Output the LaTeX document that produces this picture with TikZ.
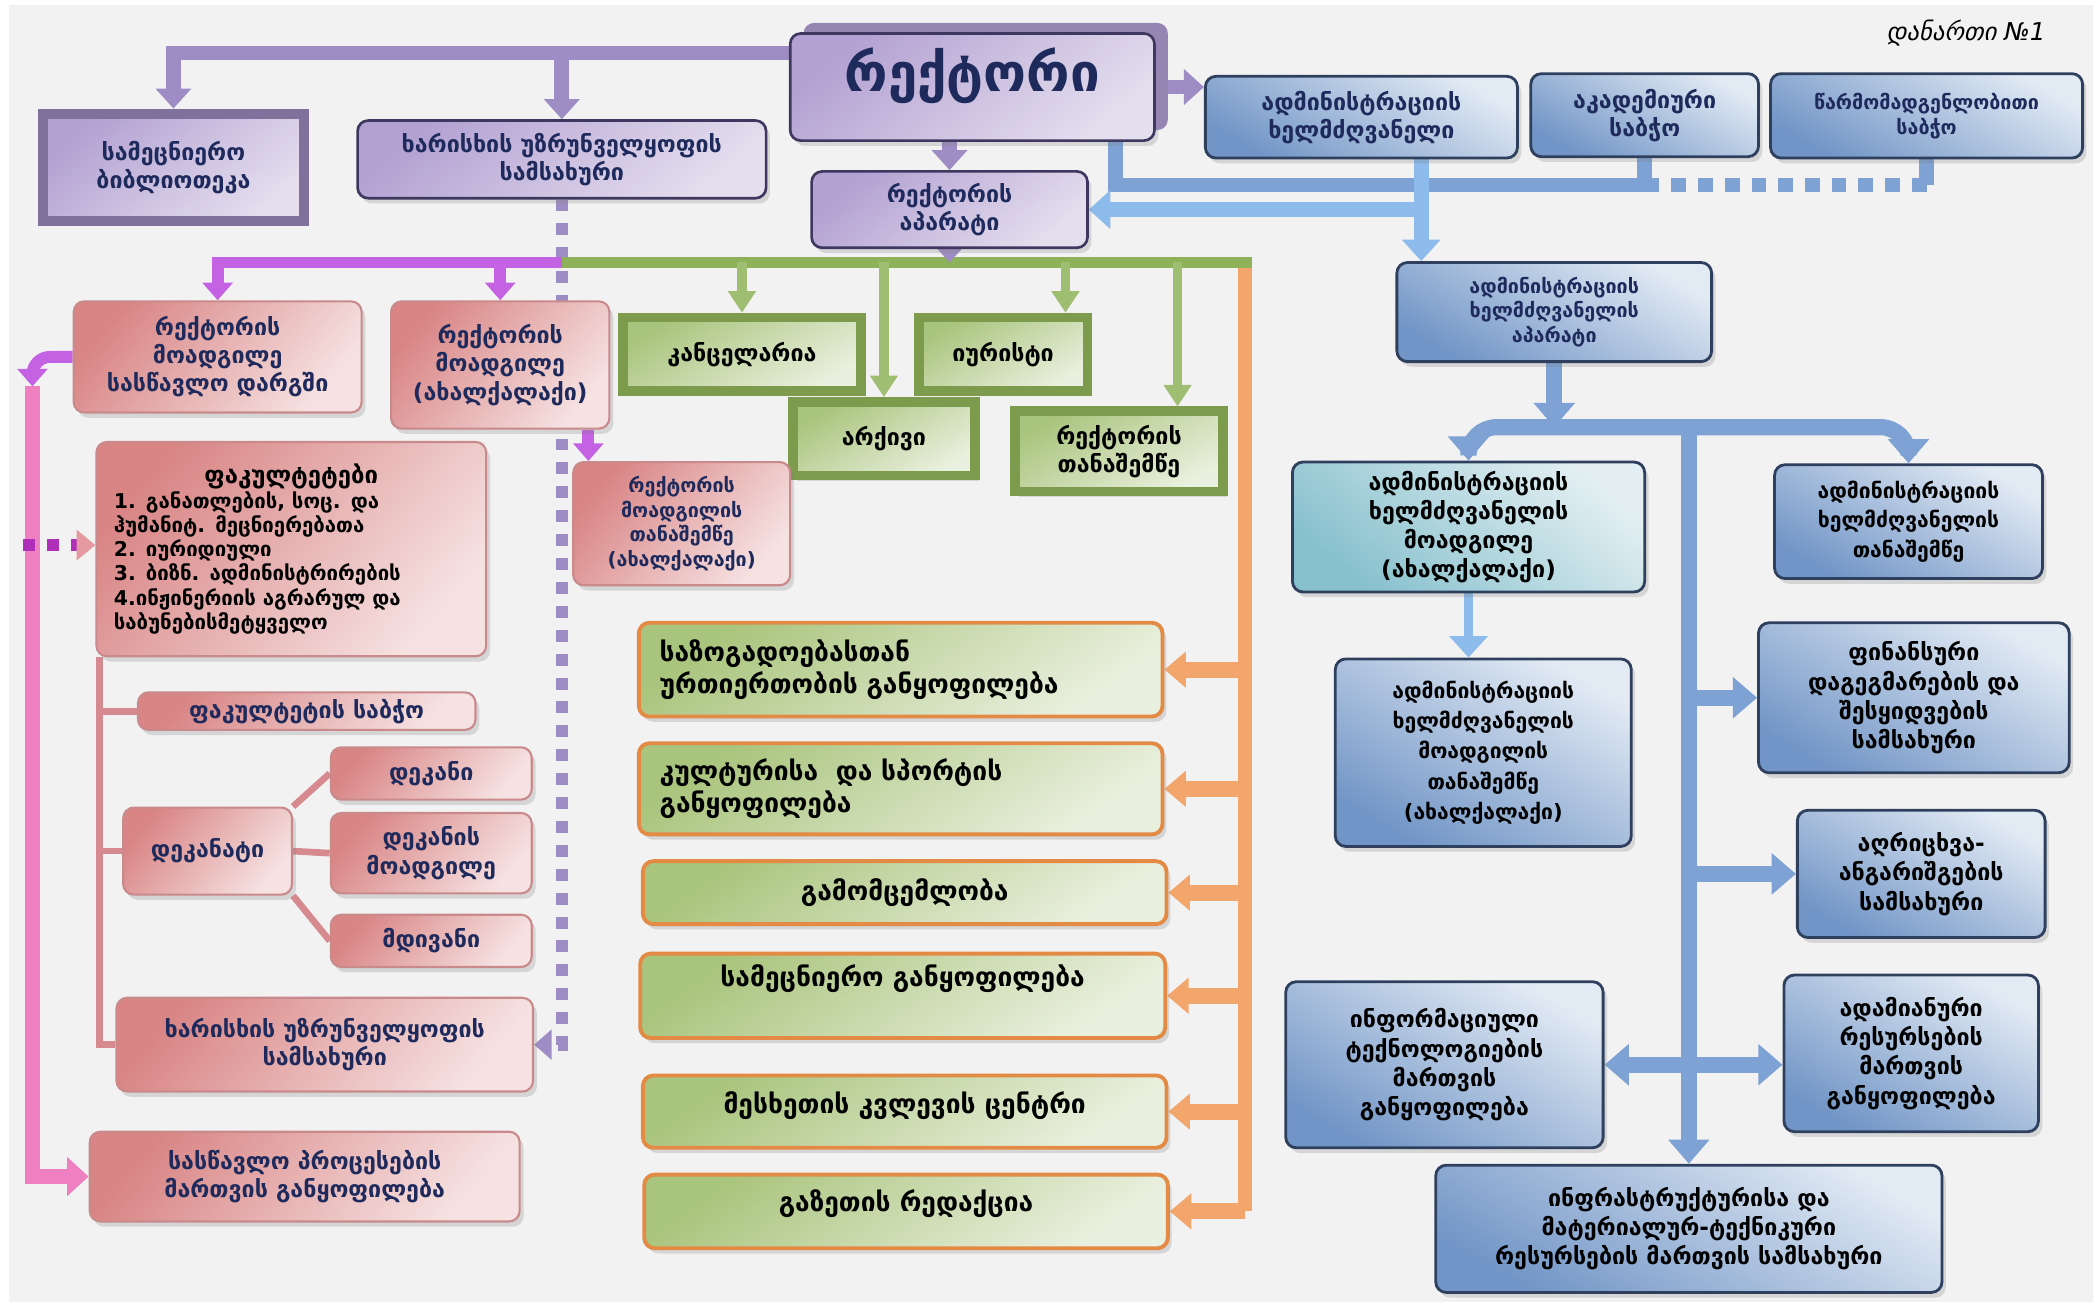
\documentclass[tikz,border=0pt]{standalone}
\usepackage{fontspec}
\setmainfont{DejaVu Sans}
\usetikzlibrary{arrows.meta, positioning, calc, shadows, backgrounds}

\newlength\dpx
\setlength\dpx{0.13393mm}

\newcommand\boxfont{\fontsize{6.6}{8}\selectfont\bfseries}
\newcommand\smallboxfont{\fontsize{5.6}{7}\selectfont\bfseries}
\newcommand\textboxfont{\fontsize{7.5}{9}\selectfont\bfseries}
\newcommand\bluefont{\fontsize{6.6}{8.3}\selectfont\bfseries}
\newcommand\listfont{\fontsize{5.8}{6.9}\selectfont\bfseries}

\definecolor{navy}{HTML}{1F2A5C}
\definecolor{bgpanel}{HTML}{F2F2F2}
\definecolor{lavline}{HTML}{9E8DC4}
\definecolor{lavtop}{HTML}{B3A1D2}
\definecolor{lavlight}{HTML}{E4DEEE}
\definecolor{lavedge}{HTML}{3E3760}
\definecolor{lavbevel}{HTML}{7F709C}
\definecolor{lavshadow}{HTML}{9485B2}
\definecolor{magline}{HTML}{C462E4}
\definecolor{magdot}{HTML}{B02FB8}
\definecolor{pinkline}{HTML}{EE80C2}
\definecolor{pinkarrow}{HTML}{E59AA2}
\definecolor{pinkdark}{HTML}{D98585}
\definecolor{pinklight}{HTML}{F6E2E2}
\definecolor{pinkedge}{HTML}{C98A8C}
\definecolor{treeline}{HTML}{D68A90}
\definecolor{grnline}{HTML}{8EB259}
\definecolor{grndark}{HTML}{A9C47C}
\definecolor{grnlight}{HTML}{EAF0DF}
\definecolor{grnbevel}{HTML}{7D9B4C}
\definecolor{orgline}{HTML}{F2A66C}
\definecolor{orgedge}{HTML}{E38A45}
\definecolor{bluline}{HTML}{7EA2D3}
\definecolor{bluarrow}{HTML}{8CBBEC}
\definecolor{bludark}{HTML}{7195C6}
\definecolor{blulight}{HTML}{E2EAF4}
\definecolor{bluedge}{HTML}{2F405F}
\definecolor{tealdark}{HTML}{86C0CD}
\definecolor{teallight}{HTML}{E3EFF2}

\tikzset{%
    wh/.style 2 args={
        minimum width=#1\dpx,
        minimum height=#2\dpx,
    },
    boxsty/.style={
        rounded corners=3pt,
        align=center,
        inner sep=1pt,
        line width=0.75pt,
        font=\boxfont,
        drop shadow={shadow xshift=1.1pt, shadow yshift=-1.5pt, opacity=.25},
    },
    lavsty/.style={
        boxsty,
        draw=lavedge,
        top color=lavtop,
        bottom color=lavlight,
        shading angle=40,
        text=navy,
    },
    bevlav/.style={
        lavsty,
        sharp corners,
        draw=lavbevel,
        line width=3pt,
    },
    pinksty/.style={
        boxsty,
        draw=pinkedge,
        line width=0.6pt,
        top color=pinkdark,
        bottom color=pinklight,
        shading angle=50,
        text=navy,
    },
    grnsty/.style={
        boxsty,
        sharp corners,
        draw=grnbevel,
        line width=2.7pt,
        top color=grndark,
        bottom color=grnlight,
        shading angle=30,
        text=black,
    },
    orgsty/.style={
        boxsty,
        draw=orgedge,
        line width=1.1pt,
        top color=grndark,
        bottom color=grnlight,
        shading angle=35,
        text=black,
        font=\textboxfont,
    },
    blusty/.style={
        boxsty,
        draw=bluedge,
        line width=0.8pt,
        top color=blulight,
        bottom color=bludark,
        shading angle=-30,
        text=navy,
    },
    blktxt/.style={
        text=black,
        font=\bluefont,
    },
    pline/.style={draw=lavline, line width=4.2pt},
    parrow/.style={pline, -{Triangle[length=5.7pt, width=9.9pt]}},
    pdot/.style={draw=lavline, line width=3.4pt, dash pattern=on 3.4pt off 3.4pt,
        -{Triangle[length=5pt, width=8.4pt]}},
    marrow/.style={draw=magline, line width=3.4pt, -{Triangle[length=5pt, width=8.4pt]}},
    mline/.style={draw=magline, line width=3.4pt},
    mdotarrow/.style={draw=magdot, line width=3.4pt, dash pattern=on 3.4pt off 3.4pt,
        -{Triangle[length=5.3pt, width=8.4pt, fill=pinkarrow, color=pinkarrow]}},
    pkarrow/.style={draw=pinkline, line width=4.2pt, -{Triangle[length=6.1pt, width=10.7pt]}},
    tline/.style={draw=treeline, line width=1.9pt},
    gline/.style={draw=grnline, line width=3.4pt},
    garrow/.style={draw=grnline!85, line width=2.7pt, -{Triangle[length=6.1pt, width=7.6pt]}},
    oline/.style={draw=orgline, line width=3.8pt},
    oarrow/.style={draw=orgline, line width=4.6pt, -{Triangle[length=6.1pt, width=9.9pt]}},
    bline/.style={draw=bluline, line width=4.2pt},
    bdot/.style={draw=bluline, line width=4.2pt, dash pattern=on 4.2pt off 3.4pt},
    barrow/.style={draw=bluline, line width=4.6pt, -{Triangle[length=6.9pt, width=11.4pt]}},
    bdouble/.style={draw=bluline, line width=4.6pt,
        {Triangle[length=6.9pt, width=11.4pt]}-{Triangle[length=6.9pt, width=11.4pt]}},
    lbarrow/.style={draw=bluarrow, line width=4.2pt, -{Triangle[length=6.1pt, width=10.7pt]}},
}

\begin{document}
\begin{tikzpicture}[x=\dpx, y=-\dpx]

\useasboundingbox (0,0) rectangle (1568,974.4);
\begin{scope}[on background layer]
\fill[white] (0,0) rectangle (1568,974.4);
\fill[bgpanel] (7,4) rectangle (1563,972);
\end{scope}

% rector and top row
\node (rector) [lavsty,wh={272}{80},text depth=26\dpx,font=\fontsize{15}{18}\selectfont\bfseries,
    drop shadow={shadow xshift=3.8pt, shadow yshift=3pt, fill=lavshadow, opacity=1}] at (726,65) {რექტორი};
\node (lib) [bevlav,wh={195}{80}] at (129.5,125) {სამეცნიერო\\ბიბლიოთეკა};
\node (xar) [lavsty,wh={305}{58}] at (419.5,119) {ხარისხის უზრუნველყოფის\\სამსახური};
\node (rap) [lavsty,wh={206}{57}] at (709,156.5) {რექტორის\\აპარატი};
\node (admin) [blusty,wh={233}{61}] at (1016.5,87.5) {ადმინისტრაციის\\ხელმძღვანელი};
\node (akad) [blusty,wh={170}{62}] at (1228,86) {აკადემიური\\საბჭო};
\node (carm) [blusty,wh={233}{63},font=\smallboxfont] at (1438.5,86.5) {წარმომადგენლობითი\\საბჭო};
\node (annex) [font=\fontsize{7}{8}\selectfont\itshape] at (1468,25) {დანართი №1};

% administration side
\node (adap) [blusty,wh={235}{74},font=\smallboxfont] at (1160.5,233) {ადმინისტრაციის\\ხელმძღვანელის\\აპარატი};
\node (dep) [blusty,blktxt,wh={263}{97},top color=teallight,bottom color=tealdark,shading angle=-40] at (1096.5,393.5)
    {ადმინისტრაციის\\ხელმძღვანელის\\მოადგილე\\(ახალქალაქი)};
\node (dept) [blusty,blktxt,wh={221}{140},font=\fontsize{6}{8.6}\selectfont\bfseries] at (1107.5,562)
    {ადმინისტრაციის\\ხელმძღვანელის\\მოადგილის\\თანაშემწე\\(ახალქალაქი)};
\node (atan) [blusty,blktxt,wh={200}{85},font=\fontsize{6}{8.3}\selectfont\bfseries] at (1425,389.5)
    {ადმინისტრაციის\\ხელმძღვანელის\\თანაშემწე};
\node (fin) [blusty,blktxt,wh={232}{112}] at (1429,521) {ფინანსური\\დაგეგმარების და\\შესყიდვების\\სამსახური};
\node (agr) [blusty,blktxt,wh={185}{95}] at (1434.5,652.5) {აღრიცხვა-\\ანგარიშგების\\სამსახური};
\node (it) [blusty,blktxt,wh={237}{124}] at (1078.5,795) {ინფორმაციული\\ტექნოლოგიების\\მართვის\\განყოფილება};
\node (adam) [blusty,blktxt,wh={190}{117}] at (1427,786.5) {ადამიანური\\რესურსების\\მართვის\\განყოფილება};
\node (infra) [blusty,blktxt,wh={378}{95}] at (1261,917.5)
    {ინფრასტრუქტურისა და\\მატერიალურ-ტექნიკური\\რესურსების მართვის სამსახური};

% rector apparatus units
\node (kanc) [grnsty,wh={178}{55}] at (554,264.5) {კანცელარია};
\node (iur) [grnsty,wh={126}{55}] at (749,264.5) {იურისტი};
\node (ark) [grnsty,wh={136}{55}] at (660,327.5) {არქივი};
\node (rt) [grnsty,wh={155}{60}] at (835.5,337) {რექტორის\\თანაშემწე};

\node (szo) [orgsty,wh={391}{70},text width=360\dpx,align=left] at (672.5,500) {საზოგადოებასთან\\ურთიერთობის განყოფილება};
\node (kul) [orgsty,wh={391}{68},text width=360\dpx,align=left] at (672.5,589) {კულტურისა\ \ და სპორტის\\განყოფილება};
\node (gam) [orgsty,wh={391}{47}] at (675.5,666.5) {გამომცემლობა};
\node (sam) [orgsty,wh={392}{63},text depth=30\dpx] at (674,743.5) {სამეცნიერო განყოფილება};
\node (mes) [orgsty,wh={391}{54},text depth=14\dpx] at (675.5,830) {მესხეთის კვლევის ცენტრი};
\node (gaz) [orgsty,wh={391}{55},text depth=16\dpx] at (676.5,904.5) {გაზეთის რედაქცია};

% teaching side
\node (vds) [pinksty,wh={215}{83}] at (162.5,266.5) {რექტორის\\მოადგილე\\სასწავლო დარგში};
\node (vah) [pinksty,wh={163}{95}] at (373.5,272.5) {რექტორის\\მოადგილე\\(ახალქალაქი)};
\node (vaht) [pinksty,wh={162}{92},font=\smallboxfont] at (509,391) {რექტორის\\მოადგილის\\თანაშემწე\\(ახალქალაქი)};
\node (fac) [pinksty,wh={291}{160},text width=265\dpx,align=left,text=black,font=\listfont] at (217.5,410)
    {\centerline{\fontsize{6.8}{8}\selectfont ფაკულტეტები}
     1. განათლების, სოც. და\\ჰუმანიტ. მეცნიერებათა\\2. იურიდიული\\3. ბიზნ. ადმინისტრირების\\4.ინჟინერიის აგრარულ და\\საბუნებისმეტყველო};
\node (fs) [pinksty,wh={252}{28}] at (229,531) {ფაკულტეტის საბჭო};
\node (dek) [pinksty,wh={126}{65}] at (155,635.5) {დეკანატი};
\node (dkn) [pinksty,wh={150}{39}] at (322,577.5) {დეკანი};
\node (dkm) [pinksty,wh={150}{60}] at (322,637) {დეკანის\\მოადგილე};
\node (mdv) [pinksty,wh={150}{39}] at (322,702.5) {მდივანი};
\node (xp) [pinksty,wh={311}{70}] at (242.5,780) {ხარისხის უზრუნველყოფის\\სამსახური};
\node (spm) [pinksty,wh={321}{67}] at (227.5,878.5) {სასწავლო პროცესების\\მართვის განყოფილება};

\begin{scope}[on background layer]
% purple links from the rector
\coordinate (ptop) at ($(rector.north west)!.19!(rector.south west)$);
\draw[parrow] (ptop) -| (lib.north);
\draw[parrow] (ptop -| xar.north) -- (xar.north);
\draw[parrow] (rap.north |- rector.south) -- (rap.north);
\draw[parrow] (rector.east) -- (rector.east -| admin.west);

% quality service dotted link
\coordinate (hub) at ($(xar.south)+(0,47)$);
\draw[pdot] (xar.south) |- (xp.east);

% magenta and green rails
\draw[marrow] (hub) -| (vds.north);
\draw[marrow] (hub -| vah.north) -- (vah.north);
\coordinate (vahr) at ($(vah.south west)!.9!(vah.south east)$);
\draw[marrow] (vahr) -- (vahr |- vaht.north);
\coordinate (gend) at ($(hub)+(515,0)$);
\coordinate (ocol) at ($(gend)+(-5,4)$);
\draw[oline] (ocol) -- (ocol |- gaz.east);
\draw[gline] (hub) -- (gend);
\draw[parrow] (rap.south) -- (rap.south |- hub);
\draw[garrow] (hub -| kanc.north) -- (kanc.north);
\draw[garrow] (hub -| ark.north) -- (ark.north);
\coordinate (iurt) at ($(iur.north west)!.85!(iur.north east)$);
\draw[garrow] (iurt |- hub) -- (iurt);
\coordinate (rtt) at ($(rt.north west)!.77!(rt.north east)$);
\draw[garrow] (rtt |- hub) -- (rtt);

% orange arrows
\draw[oarrow] (ocol |- szo.east) -- (szo.east);
\draw[oarrow] (ocol |- kul.east) -- (kul.east);
\draw[oarrow] (ocol |- gam.east) -- (gam.east);
\draw[oarrow] (ocol |- sam.east) -- (sam.east);
\draw[oarrow] (ocol |- mes.east) -- (mes.east);
\draw[oarrow] (ocol |- gaz.east) -- (gaz.east);

% left pink rail
\coordinate (pk) at ($(vds.west)+(-30,22)$);
\draw[pkarrow] (pk) |- (spm.west);
\draw[marrow,rounded corners=5pt] (vds.west) -| (pk);
\coordinate (fdot) at ($(fac.west)+(-54,-3)$);
\draw[mdotarrow] (fdot) -- (fdot -| fac.west);

% faculty tree
\coordinate (tr) at ($(fac.south west)+(3,0)$);
\draw[tline] (tr) |- (xp.west);
\draw[tline] (tr |- fs.west) -- (fs.west);
\draw[tline] (tr |- dek.west) -- (dek.west);
\draw[tline] (dek.north east) -- (dkn.west);
\draw[tline] (dek.east) -- (dkm.west);
\draw[tline] (dek.south east) -- (mdv.west);

% blue links at the top
\coordinate (rb) at ($(rector.south west)!.89!(rector.south east)$);
\coordinate (bj) at ($(akad.south)+(0,20)$);
\draw[bline] (rb) |- (bj) -- (akad.south);
\draw[bdot] (bj) -- (bj -| carm.south);
\draw[bline] (bj -| carm.south) -- (carm.south);
\coordinate (ad1) at ($(admin.south west)!.69!(admin.south east)$);
\draw[lbarrow] (ad1) -- (ad1 |- adap.north);
\draw[lbarrow] (ad1 |- rap.east) -- (rap.east);

% administration tree
\coordinate (bar) at ($(infra.north)+(0,-550)$);
\draw[barrow] (adap.south) -- (adap.south |- bar);
\draw[barrow,rounded corners=8pt] (bar) -| (dep.north);
\draw[barrow,rounded corners=8pt] (bar) -| (atan.north);
\draw[barrow] (bar) -- (infra.north);
\draw[barrow] (bar |- fin.west) -- (fin.west);
\draw[barrow] (bar |- agr.west) -- (agr.west);
\draw[bdouble] (it.east) -- (it.east -| adam.west);
\draw[lbarrow,line width=2.7pt] (dep.south) -- (dep.south |- dept.north);
\end{scope}

\end{tikzpicture}
\end{document}
